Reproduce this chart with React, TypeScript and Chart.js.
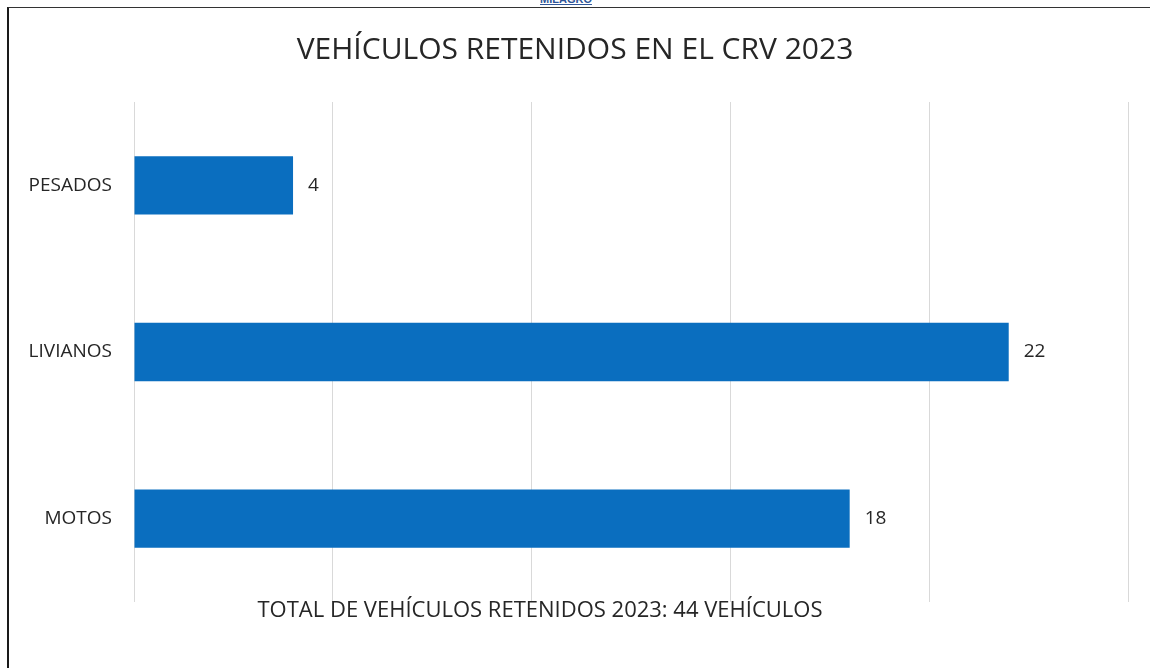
import React, { useEffect, useRef } from "react";
import { Chart, registerables } from "chart.js";

Chart.register(...registerables);

const categories = ["PESADOS", "LIVIANOS", "MOTOS"];
const values = [4, 22, 18];
const titleText = "VEHÍCULOS RETENIDOS EN EL CRV 2023";
const footerText = "TOTAL DE VEHÍCULOS RETENIDOS 2023: 44 VEHÍCULOS";
const axisMax = 25;
const axisStep = 5;

const FONT = "'Open Sans', 'DejaVu Sans', sans-serif";

const valueLabels = {
  id: "valueLabels",
  afterDatasetsDraw(chart: any) {
    const ctx = chart.ctx;
    const meta = chart.getDatasetMeta(0);
    ctx.save();
    ctx.font = `19px ${FONT}`;
    ctx.fillStyle = "#262626";
    ctx.textAlign = "left";
    ctx.textBaseline = "middle";
    meta.data.forEach((el: any, i: number) => {
      ctx.fillText(String(values[i]), el.x + 15, el.y);
    });
    ctx.restore();
  },
};

const footer = {
  id: "footerText",
  afterDraw(chart: any) {
    const ctx = chart.ctx;
    ctx.save();
    ctx.font = `22px ${FONT}`;
    ctx.fillStyle = "#262626";
    ctx.textAlign = "center";
    ctx.textBaseline = "middle";
    ctx.fillText(footerText, 540, 611);
    ctx.restore();
  },
};

export default function App() {
  const ref = useRef<HTMLCanvasElement | null>(null);

  useEffect(() => {
    document.body.style.margin = "0";
    document.body.style.overflow = "hidden";
    document.body.style.background = "#ffffff";
    if (!ref.current) return;
    const chart = new Chart(ref.current, {
      type: "bar",
      data: {
        labels: categories,
        datasets: [
          {
            data: values,
            backgroundColor: "#0a6ebf",
            borderWidth: 0,
            barPercentage: 0.7,
            categoryPercentage: 0.5,
          },
        ],
      },
      options: {
        indexAxis: "y",
        responsive: false,
        animation: false,
        layout: { padding: { left: 0, right: 0, top: 0, bottom: 0 } },
        plugins: {
          legend: { display: false },
          tooltip: { enabled: false },
          title: {
            display: true,
            text: titleText,
            color: "#262626",
            font: { family: FONT, size: 30, weight: "normal" },
            padding: { top: 32, bottom: 34 },
          },
        },
        scales: {
          x: {
            min: 0,
            max: axisMax,
            ticks: { display: false, stepSize: axisStep },
            grid: { color: "#d9d9d9", lineWidth: 1, drawTicks: false },
            border: { display: false },
            afterFit: (scale: any) => {
              scale.height = 66;
            },
          },
          y: {
            grid: { display: false },
            border: { display: false },
            ticks: {
              color: "#262626",
              font: { family: FONT, size: 19 },
              padding: 14,
            },
            afterFit: (scale: any) => {
              scale.width = 134;
            },
          },
          yR: {
            type: "category",
            position: "right",
            grid: { display: false },
            border: { display: false },
            ticks: { display: false },
            afterFit: (scale: any) => {
              scale.width = 22;
            },
          },
        },
      },
      plugins: [valueLabels, footer],
    });
    return () => chart.destroy();
  }, []);

  return (
    <div style={{ position: "relative", width: 1150, height: 668, overflow: "hidden", background: "#fff" }}>
      <div
        style={{
          position: "absolute",
          left: 7,
          top: 7,
          width: 1150,
          height: 668,
          borderLeft: "2px solid #1a1a1a",
          borderTop: "1px solid #333",
          boxSizing: "border-box",
        }}
      />
      <span
        style={{
          position: "absolute",
          left: 540,
          top: -7,
          fontFamily: "'Liberation Sans', sans-serif",
          fontWeight: "bold",
          fontSize: 11,
          color: "#2f5597",
          textDecoration: "underline",
        }}
      >
        MILAGRO
      </span>
      <canvas ref={ref} width={1150} height={668} style={{ position: "absolute", left: 0, top: 0 }} />
    </div>
  );
}
